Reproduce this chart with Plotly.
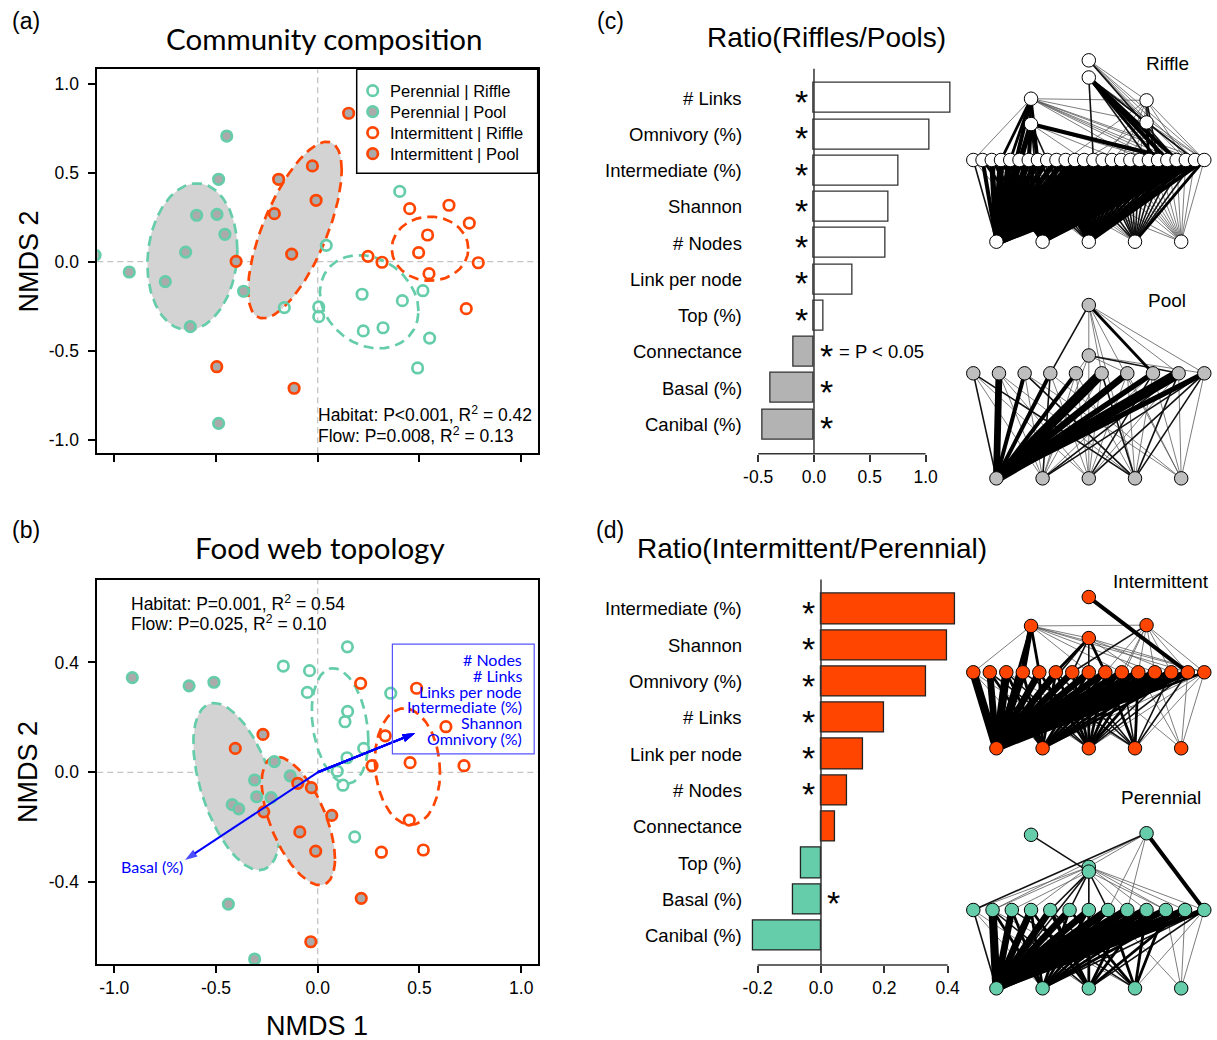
import numpy as np
import plotly.graph_objects as go

W, H = 1217, 1040
GREEN = '#66CDAA'
ORANGE = '#FF4500'
PT_GRAY = '#AAAAAA'
FILL_GRAY = '#D3D3D3'
BAR_GRAY = '#B3B3B3'
NODE_GRAY = '#BEBEBE'
BLUE = '#0000FF'
ARIAL = 'Liberation Sans, Arial, sans-serif'
CALIBRI = 'Lato, Open Sans, sans-serif'

# ---------------- data: (a) community composition NMDS ----------------
a_pr_x = [0.403, 0.042, -0.164, 0.005, 0.005, 0.218, 0.416, 0.517, 0.224, 0.321, 0.550, 0.491]
a_pr_y = [0.395, 0.092, -0.258, -0.254, -0.309, -0.183, -0.219, -0.163, -0.389, -0.371, -0.429, -0.597]
a_pp_x = [-0.447, -0.487, -0.595, -0.495, -0.456, -0.649, -0.926, -0.749, -0.626, -0.364, -0.487, -1.094]
a_pp_y = [0.706, 0.463, 0.261, 0.266, 0.154, 0.054, -0.058, -0.112, -0.365, -0.166, -0.908, 0.037]
a_ir_x = [0.452, 0.645, 0.745, 0.540, 0.496, 0.247, 0.316, 0.789, 0.547, 0.730]
a_ir_y = [0.298, 0.317, 0.217, 0.150, 0.051, 0.030, -0.003, -0.006, -0.067, -0.264]
a_ip_x = [0.152, -0.026, -0.192, -0.008, -0.213, -0.128, -0.401, -0.496, -0.116]
a_ip_y = [0.834, 0.538, 0.463, 0.345, 0.270, 0.043, 0.002, -0.590, -0.711]
# sd ellipses: centre x, centre y, sd x, sd y, correlation
a_ell_pr = (0.253, -0.225, 0.242, 0.262, -0.2)
a_ell_pp = (-0.616, 0.028, 0.221, 0.412, 0.1)
a_ell_ir = (0.552, 0.073, 0.188, 0.180, 0.0)
a_ell_ip = (-0.112, 0.178, 0.230, 0.496, 0.68)

# ---------------- data: (b) food web topology NMDS ----------------
b_pr_x = [0.146, -0.169, -0.040, -0.051, 0.359, 0.147, 0.134, 0.226, 0.144, 0.096, 0.124, 0.182]
b_pr_y = [0.457, 0.387, 0.370, 0.291, 0.288, 0.222, 0.184, 0.087, 0.053, 0.004, -0.047, -0.235]
b_pp_x = [-0.911, -0.632, -0.510, -0.213, -0.135, -0.310, -0.300, -0.229, -0.420, -0.388, -0.439, -0.310]
b_pp_y = [0.345, 0.315, 0.328, 0.039, -0.013, -0.028, -0.089, -0.092, -0.118, -0.133, -0.480, -0.680]
b_ir_x = [0.211, 0.486, 0.630, 0.332, 0.267, 0.454, 0.719, 0.450, 0.313, 0.519]
b_ir_y = [0.324, 0.306, 0.166, 0.133, 0.024, 0.035, 0.024, -0.174, -0.291, -0.283]
b_ip_x = [-0.269, -0.098, -0.031, 0.069, -0.088, -0.010, 0.214, -0.034, -0.405, -0.265]
b_ip_y = [0.138, -0.040, -0.056, -0.157, -0.217, -0.287, -0.459, -0.617, 0.087, -0.144]
b_ell_pr = (0.110, 0.169, 0.139, 0.210, -0.25)
b_ell_pp = (-0.398, -0.052, 0.213, 0.304, -0.52)
b_ell_ir = (0.441, 0.021, 0.160, 0.212, -0.1)
b_ell_ip = (-0.095, -0.177, 0.180, 0.234, -0.59)
vec_names = ['# Nodes', '# Links', 'Links per node', 'Intermediate (%)', 'Shannon', 'Omnivory (%)', 'Basal (%)']
vec_x = [0.478, 0.478, 0.478, 0.478, 0.478, 0.478, -0.652]
vec_y = [0.142, 0.142, 0.142, 0.142, 0.142, 0.142, -0.319]

group_names = ['Perennial | Riffle', 'Perennial | Pool', 'Intermittent | Riffle', 'Intermittent | Pool']

# ---------------- data: (c) and (d) ratios ----------------
c_labels = ['# Links', 'Omnivory (%)', 'Intermediate (%)', 'Shannon', '# Nodes',
            'Link per node', 'Top (%)', 'Connectance', 'Basal (%)', 'Canibal (%)']
c_values = [1.219, 1.039, 0.756, 0.672, 0.645, 0.346, 0.084, -0.182, -0.391, -0.457]
c_signif = [True, True, True, True, True, True, True, True, True, True]
d_labels = ['Intermediate (%)', 'Shannon', 'Omnivory (%)', '# Links', 'Link per node',
            '# Nodes', 'Connectance', 'Top (%)', 'Basal (%)', 'Canibal (%)']
d_values = [0.425, 0.397, 0.331, 0.200, 0.132, 0.082, 0.046, -0.062, -0.089, -0.214]
d_signif = [True, True, True, True, True, True, False, False, True, False]

# ---------------- data: food webs ----------------
# upper nodes: (id, slot, trophic height above basal row)
riffle_mid_n = 26
riffle_upper = [('u0', 0.25, 1.75), ('u1', 0.25, 1.44), ('u2', 0.75, 1.73), ('u3', 0.75, 1.46),
                ('t0', 0.5, 2.22), ('t1', 0.5, 2.01)]
riffle_edges = (
    "t0-m25:1 t0-m24:1 t0-u2:1 t0-u3:1 t0-m23:1 t0-m22:2 "
    "t1-m13:2 t1-m22:4 t1-m21:4 t1-m20:3 t1-u3:2 t1-m24:2 t1-m25:1 t1-m19:2 "
    "u0-m0:1 u0-m6:3 u0-m7:3 u0-b0:4 u0-u2:1 u0-u3:1 u0-m20:1 u0-m21:1 u0-m22:1 u0-m24:1 u0-m25:1 u0-m18:1 "
    "u0-m3:3 u0-m4:3 u0-b1:2 "
    "u1-m5:3 u1-m6:4 u1-b0:5 u1-m22:4 u1-m21:1 u1-m23:1 u1-m20:1 u1-m16:1 u1-m12:1 u1-m7:3 u1-m8:2 u1-b1:2 "
    "u2-m14:1 u2-m16:1 u2-m18:1 u2-m19:2 u2-m20:2 u2-m23:1 u2-m25:1 u2-m10:1 "
    "u3-m15:1 u3-m17:1 u3-m19:3 u3-m20:2 u3-m21:1 u3-m24:1 u3-m25:1 u3-m12:1 "
    "m0-b0:2 m1-b0:4 m2-b0:5 m3-b0:6 m4-b0:6 m5-b0:6 m6-b0:6 m7-b0:6 m8-b0:5 m9-b0:5 m10-b0:5 "
    "m11-b0:5 m12-b0:6 m13-b0:6 m14-b0:6 m15-b0:6 m16-b0:6 m17-b0:6 m18-b0:6 m19-b0:6 m20-b0:7 "
    "m21-b0:7 m22-b0:7 m23-b0:7 m24-b0:7 m25-b0:7 "
    "m0-b1:1 m1-b1:3 m2-b1:3 m3-b1:3 m4-b1:3 m5-b1:4 m6-b1:3 m7-b1:3 m8-b1:2 m9-b1:3 m10-b1:3 "
    "m11-b1:3 m12-b1:3 m13-b1:4 m14-b1:3 m15-b1:3 m16-b1:3 m17-b1:3 m18-b1:4 m19-b1:4 m20-b1:4 "
    "m21-b1:4 m22-b1:4 m23-b1:4 m24-b1:4 m25-b1:4 "
    "m1-b2:1 m3-b2:2 m5-b2:2 m7-b2:3 m8-b2:3 m9-b2:3 m10-b2:3 m11-b2:3 m12-b2:3 m13-b2:3 m14-b2:3 "
    "m15-b2:3 m16-b2:3 m17-b2:3 m18-b2:3 m19-b2:3 m20-b2:3 m21-b2:3 m22-b2:3 m23-b2:4 m24-b2:4 m25-b2:4 "
    "m2-b3:1 m5-b3:1 m7-b3:1 m9-b3:2 m11-b3:2 m13-b3:2 m14-b3:2 m15-b3:2 m16-b3:2 m17-b3:2 m18-b3:2 "
    "m19-b3:2 m20-b3:2 m21-b3:2 m22-b3:2 m23-b3:2 m24-b3:2 m25-b3:3 "
    "m0-b4:1 m6-b4:1 m12-b4:1 m14-b4:1 m15-b4:1 m16-b4:1 m17-b4:1 m18-b4:1 m19-b4:1 m20-b4:1 "
    "m21-b4:1 m22-b4:1 m23-b4:1 m24-b4:1 m25-b4:1"
)
pool_mid_n = 10
pool_upper = [('u0', 0.5, 1.17), ('t0', 0.5, 1.65)]
pool_edges = (
    "t0-m3:2 t0-m7:3 t0-u0:1 t0-m8:1 t0-m9:1 t0-b3:1 t0-b4:1 t0-m5:1 "
    "u0-m6:1 u0-m8:2 u0-m9:1 u0-b2:1 u0-b1:1 u0-m4:1 "
    "m0-b0:2 m1-b0:6 m2-b0:4 m3-b0:4 m4-b0:4 m5-b0:8 m6-b0:6 m7-b0:5 m8-b0:8 m9-b0:5 "
    "m0-b1:1 m0-b2:1 m0-b3:2 m1-b2:1 m1-b3:1 m1-b1:1 m2-b1:1 m2-b3:2 m2-b4:1 "
    "m3-b1:2 m3-b2:1 m3-b4:1 m4-b1:1 m4-b2:1 m4-b3:1 m5-b2:1 m5-b3:2 m5-b1:1 "
    "m6-b2:1 m6-b3:1 m6-b4:1 m7-b1:1 m7-b2:2 m7-b3:1 m7-b4:1 "
    "m8-b1:2 m8-b2:1 m8-b3:2 m8-b4:1 m9-b1:2 m9-b2:2 m9-b3:2 m9-b4:1"
)
inter_mid_n = 15
inter_upper = [('u0', 0.25, 1.61), ('u1', 0.5, 1.45), ('u2', 0.75, 1.62), ('t0', 0.5, 1.99)]
inter_edges = (
    "t0-m13:4 "
    "u0-m0:1 u0-m3:5 u0-m4:3 u0-b0:3 u0-u1:1 u0-m7:1 u0-m9:1 u0-m11:1 u0-m13:1 u0-u2:1 u0-m14:1 "
    "u1-m5:3 u1-m6:2 u1-m7:2 u1-m8:3 u1-b0:2 u1-m10:1 u1-m12:1 u1-m14:1 "
    "u2-m6:2 u2-m8:1 u2-m9:1 u2-m10:1 u2-m11:1 u2-m12:1 u2-m13:1 u2-m14:1 u2-b2:1 "
    "m0-b0:7 m1-b0:6 m2-b0:7 m3-b0:7 m4-b0:6 m5-b0:6 m6-b0:6 m7-b0:6 m8-b0:6 m9-b0:6 m10-b0:6 "
    "m11-b0:6 m12-b0:6 m13-b0:6 m14-b0:3 "
    "m0-b1:1 m0-b2:1 m1-b1:3 m1-b2:2 m2-b1:3 m2-b2:2 m2-b3:1 m3-b1:3 m3-b3:2 m4-b1:3 m4-b2:3 "
    "m5-b3:2 m5-b1:3 m5-b2:3 m6-b2:3 m6-b3:2 m7-b1:3 m7-b2:3 m7-b4:1 m8-b3:3 m8-b1:3 m8-b2:3 "
    "m9-b2:3 m9-b3:2 m9-b1:3 m10-b1:3 m10-b3:3 m10-b4:1 m10-b2:3 m11-b2:3 m11-b4:1 m11-b1:3 "
    "m12-b1:3 m12-b3:2 m12-b2:2 m13-b2:2 m13-b3:2 m13-b4:1 m13-b1:3 m14-b1:1 m14-b2:1 "
    "m14-b3:1 m14-b4:1"
)
peren_mid_n = 13
peren_upper = [('u0', 0.5, 1.55), ('u1', 0.5, 1.49), ('t0', 0.25, 1.96), ('t1', 0.75, 1.98)]
peren_edges = (
    "t0-u1:2 t1-m0:2 t1-m1:1 t1-m7:1 t1-m8:1 t1-m12:4 t1-u0:1 "
    "u0-m0:1 u0-m1:1 u0-m3:1 u0-m9:1 u0-m10:1 u0-m11:1 u0-m12:1 "
    "u1-m2:1 u1-m4:2 u1-m5:2 u1-m6:2 u1-m7:2 u1-m8:1 u1-b0:2 u1-b2:1 u1-m10:1 "
    "m0-b0:2 m1-b0:7 m2-b0:6 m3-b0:6 m4-b0:6 m5-b0:6 m6-b0:6 m7-b0:7 m8-b0:7 m9-b0:7 m10-b0:6 "
    "m11-b0:6 m12-b0:5 "
    "m0-b1:1 m0-b2:1 m1-b1:3 m1-b2:2 m1-b3:1 m2-b1:3 m2-b3:2 m3-b2:3 m3-b1:3 m4-b2:4 m4-b3:2 "
    "m5-b1:3 m5-b3:3 m6-b2:3 m6-b1:3 m7-b3:3 m7-b4:1 m7-b1:3 m8-b1:3 m8-b2:3 m9-b2:3 m9-b3:3 "
    "m9-b1:3 m10-b4:1 m10-b3:3 m10-b1:3 m11-b1:3 m11-b2:3 m11-b4:1 m12-b1:2 m12-b2:2 m12-b3:1 m12-b4:1"
)
basal_slots = [0.1, 0.3, 0.5, 0.7, 0.9]

# ======================================================================
fig = go.Figure()


def px_x(a, b):
    return [a / W, b / W]


def px_y(top, bottom):
    return [1 - bottom / H, 1 - top / H]


def ellipse(p, n=181):
    cx, cy, sx, sy, r = p
    t = np.linspace(0, 2 * np.pi, n)
    phi = np.arccos(r)
    return cx + sx * np.cos(t), cy + sy * np.cos(t - phi)


GROUP_STYLE = [(GREEN, False), (GREEN, True), (ORANGE, False), (ORANGE, True)]


def marker_style(col, filled):
    return dict(symbol='circle' if filled else 'circle-open', size=10.5,
                color=PT_GRAY if filled else col, line=dict(color=col, width=2.7))


def add_nmds(xa, ya, pts, ells):
    for (p, col, filled) in ells:
        ex, ey = ellipse(p)
        fig.add_trace(go.Scatter(
            x=ex, y=ey, mode='lines', xaxis=xa, yaxis=ya, showlegend=False,
            fill='toself' if filled else 'none', fillcolor=FILL_GRAY,
            line=dict(color=col, width=2.7, dash='10px,6px'), hoverinfo='skip'))
    for (gx, gy), name, (col, filled) in zip(pts, group_names, GROUP_STYLE):
        fig.add_trace(go.Scatter(x=gx, y=gy, mode='markers', xaxis=xa, yaxis=ya, name=name,
                                 showlegend=False, marker=marker_style(col, filled)))


add_nmds('x', 'y', [(a_pr_x, a_pr_y), (a_pp_x, a_pp_y), (a_ir_x, a_ir_y), (a_ip_x, a_ip_y)],
         [(a_ell_pp, GREEN, True), (a_ell_ip, ORANGE, True),
          (a_ell_pr, GREEN, False), (a_ell_ir, ORANGE, False)])
add_nmds('x2', 'y2', [(b_pr_x, b_pr_y), (b_pp_x, b_pp_y), (b_ir_x, b_ir_y), (b_ip_x, b_ip_y)],
         [(b_ell_pp, GREEN, True), (b_ell_ip, ORANGE, True),
          (b_ell_pr, GREEN, False), (b_ell_ir, ORANGE, False)])

annotations = []
shapes = []

# crosshair dashed lines (below traces)
for xr, yr in [('x', 'y'), ('x2', 'y2')]:
    shapes.append(dict(type='line', layer='below', xref=xr + ' domain', yref=yr, x0=0, x1=1, y0=0, y1=0,
                       line=dict(color='#C4C4C4', width=1.3, dash='6px,4px')))
    shapes.append(dict(type='line', layer='below', xref=xr, yref=yr + ' domain', x0=0, x1=0, y0=0, y1=1,
                       line=dict(color='#C4C4C4', width=1.3, dash='6px,4px')))

# envfit arrows (line from origin + arrow head oriented along the line)
for vx, vy in zip(vec_x, vec_y):
    fig.add_trace(go.Scatter(x=[0, vx], y=[0, vy], mode='lines+markers', xaxis='x2', yaxis='y2',
                             showlegend=False, hoverinfo='skip',
                             line=dict(color=BLUE, width=2),
                             marker=dict(symbol='arrow', angleref='previous', size=[0, 13], color=BLUE,
                                         line=dict(width=0))))
right_names = [n for n, vx in zip(vec_names, vec_x) if vx > 0]
shapes.append(dict(type='rect', xref='x2', yref='y2', x0=0.367, x1=1.064, y0=0.067, y1=0.467,
                   line=dict(color='#5555FF', width=1.2)))
for i, nm in enumerate(right_names):
    annotations.append(dict(xref='x2', yref='y2', x=1.012, y=0.409 - i * 0.057, text=nm,
                            showarrow=False, xanchor='right', yanchor='middle',
                            font=dict(family=CALIBRI, size=16, color=BLUE)))
for nm, vx, vy in zip(vec_names, vec_x, vec_y):
    if vx < 0:
        annotations.append(dict(xref='x2', yref='y2', x=vx, y=vy - 0.025, text=nm, showarrow=False,
                                xanchor='right', yanchor='middle',
                                font=dict(family=CALIBRI, size=16, color=BLUE)))


# ---------------- bar panels ----------------
def add_bars(xa, ya, labels, values, signif, pos_col, neg_col, edge, star_off, label_px):
    n = len(labels)
    ypos = [0.7 + 1.2 * (n - 1 - i) for i in range(n)]
    fig.add_trace(go.Bar(
        x=values, y=ypos, orientation='h', width=1.0, xaxis=xa, yaxis=ya, showlegend=False,
        marker=dict(color=[pos_col if v > 0 else neg_col for v in values],
                    line=dict(color=edge, width=1.3))))
    for lab, yp in zip(labels, ypos):
        annotations.append(dict(xref='paper', yref=ya, x=label_px / W, y=yp, text=lab, showarrow=False,
                                xanchor='right', yanchor='middle',
                                font=dict(family=ARIAL, size=18.5, color='black')))
    for v, s, yp in zip(values, signif, ypos):
        if s:
            annotations.append(dict(xref=xa, yref=ya, x=-star_off if v > 0 else star_off, y=yp,
                                    text='*', showarrow=False, xanchor='center', yanchor='middle',
                                    yshift=-4, font=dict(family=ARIAL, size=34, color='black')))
    return ypos


c_ypos = add_bars('x3', 'y3', c_labels, c_values, c_signif, 'white', BAR_GRAY, '#333333', 0.11, 744)
d_ypos = add_bars('x4', 'y4', d_labels, d_values, d_signif, ORANGE, GREEN, '#222222', 0.040, 744)
annotations.append(dict(xref='paper', yref='y3', x=837 / W, y=c_ypos[c_labels.index('Connectance')],
                        text='= P < 0.05', showarrow=False, xanchor='left', yanchor='middle',
                        font=dict(family=ARIAL, size=18.5, color='black')))
for xa, ya, lo, hi in [('x3', 'y3', -0.5, 1.0), ('x4', 'y4', -0.2, 0.4)]:
    shapes.append(dict(type='line', xref=xa, yref=ya + ' domain', x0=lo, x1=hi, y0=0, y1=0,
                       line=dict(color='#333333', width=1.5)))
    shapes.append(dict(type='line', xref=xa, yref=ya + ' domain', x0=0, x1=0, y0=0, y1=1,
                       line=dict(color='#333333', width=1.5)))

# ---------------- food webs ----------------
EDGE_STYLE = {1: (0.8, '#5A5A5A'), 2: (1.6, '#111111'), 3: (2.8, 'black'), 4: (4.0, 'black'),
              5: (5.4, 'black'), 6: (6.8, 'black'), 7: (8.2, 'black'), 8: (10.0, 'black')}


def add_web(xa, ya, n_mid, upper, edges, fillc):
    pos = {}
    for i, s in enumerate(basal_slots):
        pos['b%d' % i] = (s, 0.0)
    for i in range(n_mid):
        pos['m%d' % i] = (i / (n_mid - 1), 1.0)
    for nid, s, lev in upper:
        pos[nid] = (s, lev)
    groups = {}
    for tok in edges.split():
        pair, w = tok.split(':')
        a, b = pair.split('-')
        groups.setdefault(int(w), []).append((a, b))
    for w in sorted(groups):
        xs, ys = [], []
        for a, b in groups[w]:
            xs += [pos[a][0], pos[b][0], None]
            ys += [pos[a][1], pos[b][1], None]
        lw, lc = EDGE_STYLE[w]
        fig.add_trace(go.Scatter(x=xs, y=ys, mode='lines', xaxis=xa, yaxis=ya, showlegend=False,
                                 line=dict(color=lc, width=lw), hoverinfo='skip', cliponaxis=False))
    ids = list(pos.keys())
    fig.add_trace(go.Scatter(x=[pos[k][0] for k in ids], y=[pos[k][1] for k in ids], mode='markers',
                             xaxis=xa, yaxis=ya, showlegend=False, cliponaxis=False,
                             marker=dict(size=13.5, color=fillc, line=dict(color='black', width=1))))


add_web('x5', 'y5', riffle_mid_n, riffle_upper, riffle_edges, 'white')
add_web('x6', 'y6', pool_mid_n, pool_upper, pool_edges, NODE_GRAY)
add_web('x7', 'y7', inter_mid_n, inter_upper, inter_edges, ORANGE)
add_web('x8', 'y8', peren_mid_n, peren_upper, peren_edges, GREEN)

# ---------------- legend of panel (a), drawn on a pixel overlay axis ----------------
LEG_L, LEG_R, LEG_T, LEG_B = 356.7, 537.7, 69.3, 173.3
fig.add_trace(go.Scatter(x=[LEG_L, LEG_R, LEG_R, LEG_L, LEG_L], y=[LEG_T, LEG_T, LEG_B, LEG_B, LEG_T],
                         mode='lines', fill='toself', fillcolor='white', line=dict(color='black', width=1.5),
                         xaxis='x9', yaxis='y9', showlegend=False, hoverinfo='skip'))
for i, (name, (col, filled)) in enumerate(zip(group_names, GROUP_STYLE)):
    yy = 90.7 + 21 * i
    fig.add_trace(go.Scatter(x=[372.7], y=[yy], mode='markers', xaxis='x9', yaxis='y9', showlegend=False,
                             hoverinfo='skip', marker=marker_style(col, filled)))
    annotations.append(dict(xref='paper', yref='paper', x=388 / W, y=1 - yy / H, text=name, showarrow=False,
                            xanchor='left', yanchor='middle', font=dict(family=ARIAL, size=16.5, color='black')))


# ---------------- texts ----------------
def ptext(txt, xpx, ypx, size, family=ARIAL, **kw):
    d = dict(xref='paper', yref='paper', x=xpx / W, y=1 - ypx / H, text=txt, showarrow=False,
             xanchor='center', yanchor='middle', font=dict(family=family, size=size, color='black'))
    d.update(kw)
    annotations.append(d)


ptext('(a)', 26, 21, 23)
ptext('(b)', 26, 530, 23)
ptext('(c)', 610, 21, 23)
ptext('(d)', 610, 530, 23)
ptext('Community composition', 324.5, 39, 29.5, CALIBRI)
ptext('Food web topology', 320, 547, 29.5, CALIBRI)
ptext('Ratio(Riffles/Pools)', 826, 38, 28)
ptext('Ratio(Intermittent/Perennial)', 811.5, 548, 28)
ptext('NMDS 2', 28, 261.5, 27, textangle=-90)
ptext('NMDS 2', 28, 772, 27, textangle=-90)
ptext('NMDS 1', 317, 1026, 27)
ptext('Habitat: P<0.001, R<sup>2</sup> = 0.42', 316, 413.5, 17.5, xanchor='left')
ptext('Flow: P=0.008, R<sup>2</sup> = 0.13', 316, 435, 17.5, xanchor='left')
ptext('Habitat: P=0.001, R<sup>2</sup> = 0.54', 129, 602.5, 17.5, xanchor='left')
ptext('Flow: P=0.025, R<sup>2</sup> = 0.10', 129, 623, 17.5, xanchor='left')
ptext('Riffle', 1167, 63, 19)
ptext('Pool', 1167, 300, 19)
ptext('Intermittent', 1161, 581, 19)
ptext('Perennial', 1161, 797, 19)

# ---------------- axes ----------------
nm_ticks = [-1, -0.5, 0, 0.5, 1]
nm_ticktext = ['-1.0', '-0.5', '0.0', '0.5', '1.0']
b_yticks = [-0.4, 0, 0.4]
b_yticktext = ['-0.4', '0.0', '0.4']
frame = dict(showline=True, mirror=True, linecolor='black', linewidth=1.8, showgrid=False, zeroline=False,
             ticks='outside', ticklen=7, tickwidth=1.5, tickcolor='black', automargin=False,
             tickfont=dict(family=ARIAL, size=17.5, color='black'))
XR = [-1.0831, 1.0811]
layout_axes = dict(
    xaxis=dict(domain=px_x(97.3, 537.7), range=XR, tickvals=nm_ticks, ticktext=nm_ticktext,
               showticklabels=False, anchor='y', **frame),
    yaxis=dict(domain=px_y(69.3, 453.3), range=[-1.0764, 1.0809], tickvals=nm_ticks, ticktext=nm_ticktext,
               anchor='x', ticklabelstandoff=6, **frame),
    xaxis2=dict(domain=px_x(97.3, 537.7), range=XR, tickvals=nm_ticks, ticktext=nm_ticktext, anchor='y2',
                ticklabelstandoff=0, **frame),
    yaxis2=dict(domain=px_y(580, 964.3), range=[-0.6992, 0.7003], tickvals=b_yticks, ticktext=b_yticktext,
                anchor='x2', ticklabelstandoff=6, **frame),
)
bar_x = dict(showline=False, showgrid=False, zeroline=False, ticks='outside', ticklen=7, tickwidth=1.5,
             tickcolor='#333333', tickfont=dict(family=ARIAL, size=17.5, color='black'), ticklabelstandoff=0,
             automargin=False)
hid = dict(visible=False, showgrid=False, zeroline=False, automargin=False)
layout_axes.update(
    xaxis3=dict(domain=px_x(755.5, 957.5), range=[-0.524, 1.286], tickvals=[-0.5, 0, 0.5, 1.0],
                ticktext=['-0.5', '0.0', '0.5', '1.0'], anchor='y3', **bar_x),
    yaxis3=dict(domain=px_y(68.7, 453.7), range=[-0.272, 12.472], anchor='x3', **hid),
    xaxis4=dict(domain=px_x(745.1, 963.7), range=[-0.2396, 0.4506], tickvals=[-0.2, 0, 0.2, 0.4],
                ticktext=['-0.2', '0.0', '0.2', '0.4'], anchor='y4', **bar_x),
    yaxis4=dict(domain=px_y(579.6, 965), range=[-0.272, 12.472], anchor='x4', **hid),
)
NETX = [-0.0792, 1.055]
web_y = {5: (40, 255, [-0.163, 2.469]), 6: (285, 492, [-0.130, 1.841]),
         7: (570, 765, [-0.220, 2.346]), 8: (815, 1005, [-0.213, 2.213])}
for k, (t, b, rng) in web_y.items():
    layout_axes['xaxis%d' % k] = dict(domain=px_x(955, 1217), range=NETX, anchor='y%d' % k, **hid)
    layout_axes['yaxis%d' % k] = dict(domain=px_y(t, b), range=rng, anchor='x%d' % k, **hid)
layout_axes['xaxis9'] = dict(domain=[0, 1], range=[0, W], anchor='y9', **hid)
layout_axes['yaxis9'] = dict(domain=[0, 1], range=[H, 0], anchor='x9', **hid)

fig.update_layout(
    width=W, height=H, margin=dict(l=0, r=0, t=0, b=0, autoexpand=False),
    paper_bgcolor='white', plot_bgcolor='rgba(0,0,0,0)',
    showlegend=False,
    annotations=annotations, shapes=shapes, bargap=0,
    **layout_axes)

fig.write_html('out.html')
